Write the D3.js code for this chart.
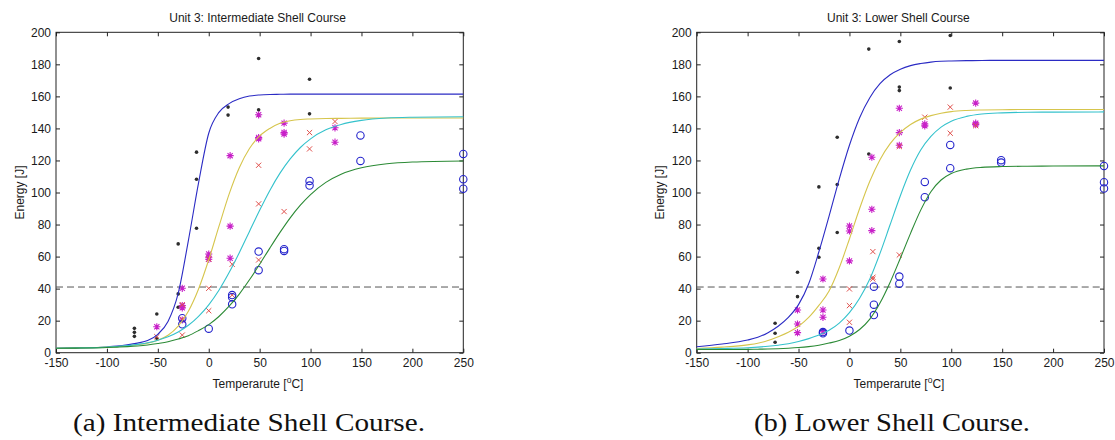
<!DOCTYPE html>
<html>
<head>
<meta charset="utf-8">
<script src="https://cdn.jsdelivr.net/npm/d3@7/dist/d3.min.js"></script>
<style>
  html, body { margin: 0; padding: 0; background: #fff; }
  svg { display: block; }
</style>
</head>
<body>
<svg id="chart" width="1115" height="440"></svg>
<script>
// ---------------- DATA ----------------
const xTicks = [-150, -100, -50, 0, 50, 100, 150, 200, 250];
const yTicks = [0, 20, 40, 60, 80, 100, 120, 140, 160, 180, 200];
const titles = ["Unit 3: Intermediate Shell Course", "Unit 3: Lower Shell Course"];
const captions = ["(a) Intermediate Shell Course.", "(b) Lower Shell Course."];
const xLabel = ["Temperarute [", "o", "C]"];
const yLabel = "Energy [J]";
const thresholdEnergy = 41;

const fitT = [-150, -125, -100, -90, -80, -70, -60, -50, -40, -30, -20, -10, 0, 10, 20, 30, 40, 50, 60, 70, 80, 90, 100, 115, 130, 150, 175, 200, 250];

// (a) Intermediate shell course: fitted curves
const aFitBlue   = [2.7, 3.0, 3.6, 4.1, 4.9, 6.0, 7.6, 11.5, 19.5, 37, 70, 106, 137, 150, 155.5, 158.5, 160.2, 160.9, 161.2, 161.3, 161.4, 161.4, 161.4, 161.4, 161.4, 161.4, 161.4, 161.4, 161.4];
const aFitYellow = [2.7, 3.0, 3.5, 3.8, 4.3, 5.0, 6.0, 7.8, 10.9, 16.6, 25.9, 39.8, 58, 78.8, 99, 115.5, 127.5, 135.3, 140, 143.2, 144.8, 145.6, 145.9, 146.2, 146.3, 146.4, 146.5, 146.5, 146.5];
const aFitCyan   = [2.8, 3.0, 3.5, 3.9, 4.4, 5.2, 6.2, 7.8, 9.9, 12.9, 17.1, 22.7, 29.9, 39.0, 50.0, 62.4, 75.7, 88.9, 101.3, 112.1, 121.0, 128.1, 133.5, 139.1, 142.5, 145.0, 146.5, 147.0, 147.3];
const aFitGreen  = [2.8, 2.9, 3.2, 3.5, 3.8, 4.2, 4.8, 5.7, 6.8, 8.5, 10.6, 13.8, 17.5, 22.6, 29.0, 36.6, 45.5, 55.2, 65.3, 75.1, 84.2, 92.1, 98.7, 106.3, 111.4, 115.4, 117.9, 119.0, 119.7];

// (a) measured points [temperature, energy]
const aDots = [[-73, 15.2], [-73, 12.7], [-73, 10.2], [-51, 24.2], [-51, 9], [-30, 67.9], [-30, 36.7], [-30, 28.4],
  [-12, 125.2], [-12, 108.3], [-12, 77.7], [19, 153.3], [19, 148.3], [49, 183.6], [49, 151.6], [49, 148], [99, 170.7], [99, 149.1]];
const aStars = [[-51, 16.2], [-26, 40.2], [-26, 29.4], [-26, 28], [-26, 20.4], [0, 61.6], [0, 59.6], [0, 58.3],
  [21, 123], [21, 79], [21, 59], [49, 148.5], [49, 134.3], [49, 133.5], [74, 143.3], [74, 137.4], [74, 136.5], [124, 140.4], [124, 131.4]];
const aCrosses = [[-51, 10], [-26, 30], [-26, 21], [-26, 11], [0, 58.5], [0, 40.2], [0, 26.2], [23, 55.2], [23, 36],
  [49, 117], [49, 92.9], [49, 57.9], [74, 88.1], [99, 137.4], [99, 127.2], [124, 144.3]];
const aCircles = [[-26, 21.5], [-26, 17.7], [0, 15], [23, 36], [23, 34.6], [23, 30.2], [49, 63.1], [49, 51.5], [74, 64.6], [74, 63.5],
  [99, 107.2], [99, 104.3], [149, 135.6], [149, 119.7], [250, 124.1], [250, 108.3], [250, 102.4]];

// (b) Lower shell course: fitted curves
const bFitBlue   = [3.7, 5.4, 7.9, 9.6, 12.5, 16.5, 22, 30, 43, 63, 85.3, 108.4, 129.5, 146.7, 159.2, 167.9, 173.5, 177, 179.2, 180.5, 181.4, 181.9, 182.1, 182.3, 182.4, 182.5, 182.5, 182.5, 182.5];
const bFitYellow = [2.6, 3.5, 4.9, 5.9, 7.6, 10.0, 12.8, 16.5, 22, 29.5, 38.5, 53, 71, 90, 107, 120.5, 130.5, 137.5, 142.5, 145.8, 148, 149.5, 150.5, 151.2, 151.5, 151.7, 151.8, 151.8, 151.8];
const bFitCyan   = [2.3, 2.6, 3.1, 3.5, 4.0, 4.7, 5.6, 7.0, 8.8, 11.0, 14.0, 18.5, 25, 34, 46, 62, 80, 98, 114, 126.5, 135, 140.8, 144.5, 147.5, 149, 149.7, 150.1, 150.2, 150.3];
const bFitGreen  = [2.0, 2.0, 2.1, 2.2, 2.3, 2.5, 2.8, 3.2, 3.8, 4.7, 6.0, 7.6, 10.3, 14.5, 21, 31, 44, 59, 74.5, 89, 100.5, 107.8, 111.8, 114.6, 115.7, 116.2, 116.4, 116.5, 116.6];

// (b) measured points [temperature, energy]
const bDots = [[-73, 18.4], [-73, 12.1], [-73, 6.5], [-51, 50.2], [-51, 35], [-30, 103.5], [-30, 65.2], [-30, 59.6],
  [-12, 134.5], [-12, 105], [-12, 75], [19, 189.5], [19, 124], [49, 194.3], [49, 165.8], [49, 163.6], [99, 198], [99, 165.2]];
const bStars = [[-51, 26.7], [-51, 17.9], [-51, 12.5], [-26, 46], [-26, 26.7], [-26, 22.1], [-26, 13.1], [0, 79.1], [0, 76], [0, 57.3],
  [22, 122], [22, 89.5], [22, 76.2], [49, 152.6], [49, 137.4], [49, 129.5], [74, 142.8], [74, 141.6], [124, 155.8], [124, 143.3], [124, 142.4]];
const bCrosses = [[0, 39.8], [0, 29.4], [0, 19], [23, 63.1], [23, 47.1], [23, 46], [49, 128.7], [49, 61], [74, 147], [99, 153.3], [99, 137], [124, 141.7]];
const bCircles = [[-26, 12.9], [-26, 12.1], [0, 13.8], [24, 41.2], [24, 30], [24, 23.5], [49, 47.5], [49, 43.1], [74, 106.6], [74, 97.1],
  [99, 129.7], [99, 115.2], [149, 120.2], [149, 118.7], [250, 116.6], [250, 106.4], [250, 102.5]];

// ---------------- DRAWING ----------------
const svg = d3.select("#chart");
svg.append("rect").attr("width", 1115).attr("height", 440).attr("fill", "#fff");

const FONT = "'Liberation Sans', Arial, Helvetica, sans-serif";
const SERIF = "'Liberation Serif', 'Times New Roman', serif";
const COLORS = { blue: "#2b2bc4", yellow: "#d6c54c", cyan: "#34c2cc", green: "#2b8a35",
  dot: "#2d2d2d", star: "#c820c8", cross: "#e0504c", circle: "#2424cc" };

const panels = [
  { x0: 56, x1: 463.3, title: titles[0], caption: captions[0], capX: 249, capLen: 352, yLabX: 24, xLabX: 258,
    fits: [aFitBlue, aFitYellow, aFitCyan, aFitGreen], dots: aDots, stars: aStars, crosses: aCrosses, circles: aCircles },
  { x0: 696.7, x1: 1104, title: titles[1], caption: captions[1], capX: 892, capLen: 276, yLabX: 664, xLabX: 899,
    fits: [bFitBlue, bFitYellow, bFitCyan, bFitGreen], dots: bDots, stars: bStars, crosses: bCrosses, circles: bCircles }
];
const Y0 = 352.7, Y1 = 32.3;
const fmt = d => String(d);   // plain hyphen-minus, as in the reference

panels.forEach(p => {
  const g = svg.append("g");
  const x = d3.scaleLinear().domain([-150, 250]).range([p.x0, p.x1]);
  const y = d3.scaleLinear().domain([0, 200]).range([Y0, Y1]);

  const styleAxis = sel => {
    sel.select(".domain").remove();
    sel.selectAll(".tick line").attr("stroke", "#222").attr("stroke-width", 1);
    sel.selectAll(".tick text").attr("fill", "#1a1a1a").style("font-family", FONT).style("font-size", "12px");
    sel.attr("font-family", null).attr("font-size", null);
  };

  g.append("g").attr("transform", `translate(0,${Y0})`)
    .call(d3.axisBottom(x).tickValues(xTicks).tickFormat(fmt).tickSizeInner(-4).tickSizeOuter(0).tickPadding(6)).call(styleAxis);
  g.append("g").attr("transform", `translate(0,${Y1})`)
    .call(d3.axisTop(x).tickValues(xTicks).tickSizeInner(-4).tickSizeOuter(0).tickFormat(() => "")).call(styleAxis);
  g.append("g").attr("transform", `translate(${p.x0},0)`)
    .call(d3.axisLeft(y).tickValues(yTicks).tickFormat(fmt).tickSizeInner(-4).tickSizeOuter(0).tickPadding(5)).call(styleAxis);
  g.append("g").attr("transform", `translate(${p.x1},0)`)
    .call(d3.axisRight(y).tickValues(yTicks).tickSizeInner(-4).tickSizeOuter(0).tickFormat(() => "")).call(styleAxis);

  g.append("rect").attr("x", x(-150)).attr("y", y(200))
    .attr("width", x(250) - x(-150)).attr("height", y(0) - y(200))
    .attr("fill", "none").attr("stroke", "#222").attr("stroke-width", 1);

  // threshold line
  g.append("line").attr("x1", x(-150)).attr("x2", x(250)).attr("y1", y(thresholdEnergy)).attr("y2", y(thresholdEnergy))
    .attr("stroke", "#555").attr("stroke-width", 1).attr("stroke-dasharray", "7,4");

  // markers
  g.selectAll(null).data(p.dots).enter().append("circle")
    .attr("cx", d => x(d[0])).attr("cy", d => y(d[1])).attr("r", 1.8).attr("fill", COLORS.dot);
  const starPath = "M-3.6,0H3.6M0,-3.6V3.6M-2.6,-2.6L2.6,2.6M-2.6,2.6L2.6,-2.6";
  g.selectAll(null).data(p.stars).enter().append("path")
    .attr("transform", d => `translate(${x(d[0])},${y(d[1])})`).attr("d", starPath)
    .attr("stroke", COLORS.star).attr("stroke-width", 1.1).attr("fill", "none");
  const crossPath = "M-2.6,-2.6L2.6,2.6M-2.6,2.6L2.6,-2.6";
  g.selectAll(null).data(p.crosses).enter().append("path")
    .attr("transform", d => `translate(${x(d[0])},${y(d[1])})`).attr("d", crossPath)
    .attr("stroke", COLORS.cross).attr("stroke-width", 1).attr("fill", "none");
  g.selectAll(null).data(p.circles).enter().append("circle")
    .attr("cx", d => x(d[0])).attr("cy", d => y(d[1])).attr("r", 3.7)
    .attr("fill", "none").attr("stroke", COLORS.circle).attr("stroke-width", 1.1);

  // fitted curves
  const line = d3.line().x(d => x(d[0])).y(d => y(d[1])).curve(d3.curveMonotoneX);
  const fitColors = [COLORS.blue, COLORS.yellow, COLORS.cyan, COLORS.green];
  p.fits.forEach((vals, i) => {
    g.append("path").datum(fitT.map((t, k) => [t, vals[k]]))
      .attr("d", line).attr("fill", "none").attr("stroke", fitColors[i]).attr("stroke-width", 1.1);
  });

  // texts
  const cx = (p.x0 + p.x1) / 2;
  g.append("text").attr("x", cx - 2).attr("y", 22).attr("text-anchor", "middle")
    .style("font-family", FONT).style("font-size", "12px").attr("fill", "#1a1a1a").text(p.title);

  const xl = g.append("text").attr("x", p.xLabX).attr("y", 388).attr("text-anchor", "middle")
    .style("font-family", FONT).style("font-size", "12px").attr("fill", "#1a1a1a");
  xl.append("tspan").text(xLabel[0]);
  xl.append("tspan").attr("dy", -5).style("font-size", "8.5px").text(xLabel[1]);
  xl.append("tspan").attr("dy", 5).text(xLabel[2]);

  g.append("text").attr("transform", `translate(${p.yLabX},${(Y0 + Y1) / 2}) rotate(-90)`)
    .attr("text-anchor", "middle").style("font-family", FONT).style("font-size", "12px")
    .attr("fill", "#1a1a1a").text(yLabel);

  g.append("text").attr("x", p.capX).attr("y", 431).attr("text-anchor", "middle")
    .style("font-family", SERIF).style("font-size", "26px").attr("fill", "#111")
    .attr("textLength", p.capLen).attr("lengthAdjust", "spacingAndGlyphs").text(p.caption);
});
</script>
</body>
</html>
